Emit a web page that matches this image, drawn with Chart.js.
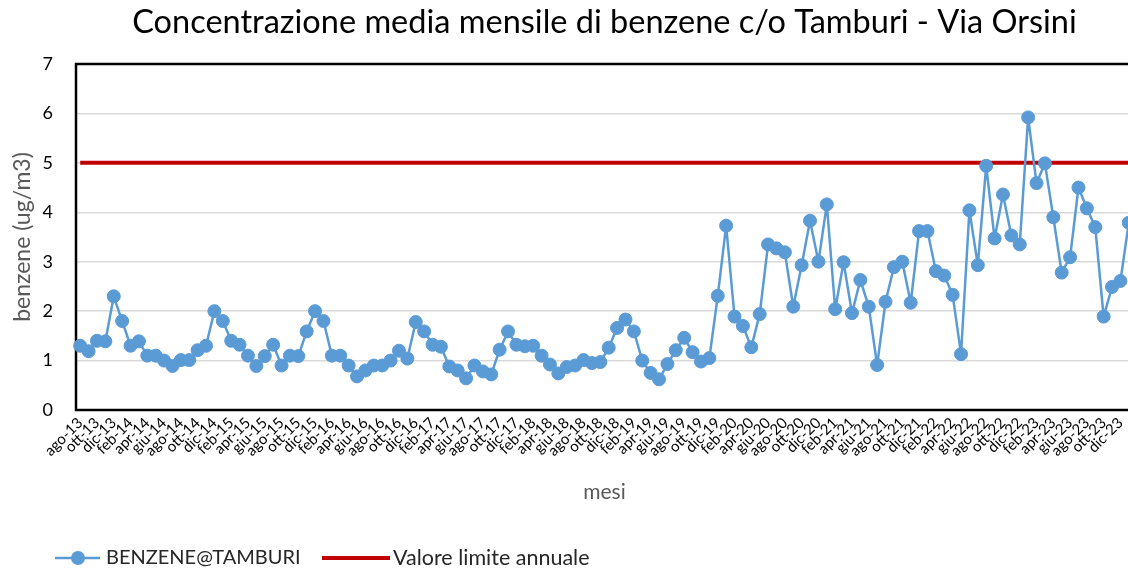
<!DOCTYPE html>
<html>
<head>
<meta charset="utf-8">
<script src="https://cdn.jsdelivr.net/npm/chart.js@4.4.1/dist/chart.umd.min.js"></script>
<style>
  html, body { margin: 0; padding: 0; background: #fff; overflow: hidden; }
  #wrap { width: 1128px; height: 570px; overflow: hidden; }
</style>
</head>
<body>
<div id="wrap"><canvas id="myChart" width="1196" height="570"></canvas></div>
<script>
// mesi (ago-13 ... gen-24)
const months = [
  'ago-13','set-13','ott-13','nov-13','dic-13',
  'gen-14','feb-14','mar-14','apr-14','mag-14','giu-14','lug-14','ago-14','set-14','ott-14','nov-14','dic-14',
  'gen-15','feb-15','mar-15','apr-15','mag-15','giu-15','lug-15','ago-15','set-15','ott-15','nov-15','dic-15',
  'gen-16','feb-16','mar-16','apr-16','mag-16','giu-16','lug-16','ago-16','set-16','ott-16','nov-16','dic-16',
  'gen-17','feb-17','mar-17','apr-17','mag-17','giu-17','lug-17','ago-17','set-17','ott-17','nov-17','dic-17',
  'gen-18','feb-18','mar-18','apr-18','mag-18','giu-18','lug-18','ago-18','set-18','ott-18','nov-18','dic-18',
  'gen-19','feb-19','mar-19','apr-19','mag-19','giu-19','lug-19','ago-19','set-19','ott-19','nov-19','dic-19',
  'gen-20','feb-20','mar-20','apr-20','mag-20','giu-20','lug-20','ago-20','set-20','ott-20','nov-20','dic-20',
  'gen-21','feb-21','mar-21','apr-21','mag-21','giu-21','lug-21','ago-21','set-21','ott-21','nov-21','dic-21',
  'gen-22','feb-22','mar-22','apr-22','mag-22','giu-22','lug-22','ago-22','set-22','ott-22','nov-22','dic-22',
  'gen-23','feb-23','mar-23','apr-23','mag-23','giu-23','lug-23','ago-23','set-23','ott-23','nov-23','dic-23',
  'gen-24'
];

// BENZENE@TAMBURI, ug/m3
const benzene = [
  1.30, 1.19, 1.40, 1.39, 2.30,
  1.80, 1.30, 1.39, 1.10, 1.10, 1.00, 0.89, 1.01, 1.01, 1.21, 1.30, 2.00,
  1.80, 1.40, 1.32, 1.10, 0.89, 1.09, 1.32, 0.90, 1.10, 1.09, 1.59, 2.00,
  1.80, 1.10, 1.10, 0.90, 0.68, 0.80, 0.90, 0.90, 1.00, 1.20, 1.04, 1.78,
  1.59, 1.32, 1.28, 0.88, 0.80, 0.64, 0.90, 0.78, 0.72, 1.22, 1.59, 1.32,
  1.29, 1.30, 1.10, 0.92, 0.74, 0.87, 0.90, 1.01, 0.95, 0.97, 1.26, 1.66,
  1.83, 1.59, 1.00, 0.75, 0.62, 0.93, 1.21, 1.46, 1.17, 0.98, 1.05, 2.31,
  3.73, 1.89, 1.70, 1.27, 1.94, 3.35, 3.27, 3.19, 2.09, 2.93, 3.83, 3.00,
  4.16, 2.04, 2.99, 1.96, 2.63, 2.09, 0.91, 2.19, 2.89, 3.00, 2.17, 3.62,
  3.62, 2.81, 2.72, 2.33, 1.13, 4.04, 2.93, 4.94, 3.47, 4.36, 3.53, 3.35,
  5.92, 4.59, 4.99, 3.90, 2.78, 3.09, 4.50, 4.08, 3.70, 1.89, 2.49, 2.61,
  3.79
];

// valore limite annuale (costante)
const limitValue = 5;
const yTicks = [0, 1, 2, 3, 4, 5, 6, 7];

const FONT = 'Lato';

// bordo nero dell'area del grafico
const plotBorder = {
  id: 'plotBorder',
  beforeDatasetsDraw(chart) {
    const { ctx, chartArea: a } = chart;
    ctx.save();
    ctx.strokeStyle = '#000';
    ctx.lineWidth = 2.5;
    ctx.strokeRect(a.left, a.top, a.right - a.left, a.bottom - a.top);
    ctx.restore();
  }
};

// legenda in basso a sinistra, stile Excel
const excelLegend = {
  id: 'excelLegend',
  afterDraw(chart) {
    const ctx = chart.ctx;
    const ds = chart.data.datasets;
    const y = 558;
    ctx.save();
    ctx.textBaseline = 'middle';
    ctx.textAlign = 'left';

    ctx.strokeStyle = ds[0].borderColor;
    ctx.lineWidth = 2.5;
    ctx.beginPath(); ctx.moveTo(55, y); ctx.lineTo(100, y); ctx.stroke();
    ctx.fillStyle = ds[0].pointBackgroundColor;
    ctx.beginPath(); ctx.arc(78, y, 7, 0, Math.PI * 2); ctx.fill();
    ctx.fillStyle = '#262626';
    ctx.font = '20px ' + FONT;
    ctx.fillText(ds[0].label, 106, y);

    ctx.strokeStyle = ds[1].borderColor;
    ctx.lineWidth = 4;
    ctx.beginPath(); ctx.moveTo(322, y); ctx.lineTo(390, y); ctx.stroke();
    ctx.fillStyle = '#262626';
    ctx.font = '21.5px ' + FONT;
    ctx.fillText(ds[1].label, 393, y);
    ctx.restore();
  }
};

function draw() {
  const ctx = document.getElementById('myChart').getContext('2d');
  Chart.defaults.font.family = FONT;

  new Chart(ctx, {
    type: 'line',
    data: {
      labels: months,
      datasets: [
        {
          label: 'BENZENE@TAMBURI',
          data: benzene,
          borderColor: '#5B9BD5',
          backgroundColor: '#5B9BD5',
          pointBackgroundColor: '#5B9BD5',
          pointBorderColor: '#5B9BD5',
          borderWidth: 2.5,
          borderJoinStyle: 'round',
          pointRadius: 6.5,
          pointBorderWidth: 1,
          tension: 0
        },
        {
          label: 'Valore limite annuale',
          data: months.map(() => limitValue),
          borderColor: '#C00000',
          backgroundColor: '#C00000',
          borderWidth: 4,
          pointRadius: 0,
          tension: 0
        }
      ]
    },
    options: {
      responsive: false,
      animation: false,
      layout: { padding: { left: 0, right: 63, top: 0, bottom: 65 } },
      plugins: {
        legend: { display: false },
        tooltip: { enabled: false },
        title: {
          display: true,
          text: 'Concentrazione media mensile di benzene c/o Tamburi - Via Orsini',
          color: '#000',
          fullSize: false,
          font: { size: 32.5, weight: 'normal' },
          padding: { top: 3, bottom: 22 }
        }
      },
      scales: {
        x: {
          offset: true,
          grid: { display: false, drawTicks: false },
          border: { display: false },
          ticks: {
            autoSkip: false,
            minRotation: 45,
            maxRotation: 45,
            padding: 4,
            color: '#000',
            font: { size: 15 },
            callback: function (v, i) {
              return i % 2 === 0 ? this.getLabelForValue(v) : '';
            }
          },
          title: {
            display: true,
            text: 'mesi',
            color: '#595959',
            font: { size: 21 },
            padding: { top: 0, bottom: 0 }
          },
          afterFit: s => { s.height = 95; }
        },
        y: {
          min: yTicks[0],
          max: yTicks[yTicks.length - 1],
          afterBuildTicks: s => { s.ticks = yTicks.map(v => ({ value: v })); },
          ticks: { padding: 23, color: '#000', font: { size: 18 } },
          grid: { color: '#D9D9D9', lineWidth: 1.5, drawTicks: false },
          border: { display: false },
          title: {
            display: true,
            text: 'benzene (ug/m3)',
            color: '#595959',
            font: { size: 23 },
            padding: { top: 9, bottom: 0 }
          },
          afterFit: s => { s.width = 76; }
        }
      }
    },
    plugins: [plotBorder, excelLegend]
  });
}

if (document.fonts && document.fonts.load) {
  document.fonts.load('20px ' + FONT).then(draw, draw);
} else {
  draw();
}
</script>
</body>
</html>
